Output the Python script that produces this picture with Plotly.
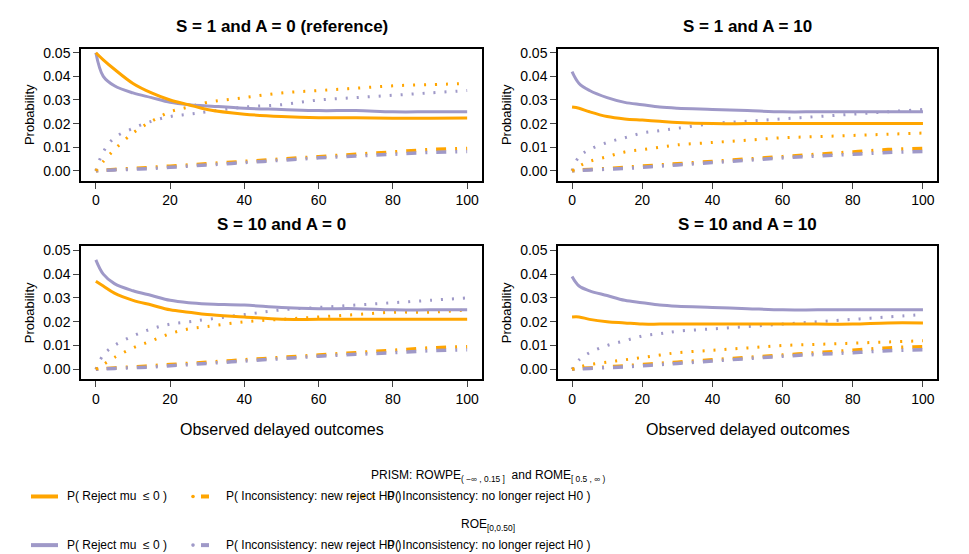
import plotly.graph_objects as go

x = [0, 2, 5, 10, 15, 20, 25, 30, 40, 50, 60, 70, 80, 90, 100]
titles = ["S = 1 and A = 0 (reference)", "S = 1 and A = 10", "S = 10 and A = 0", "S = 10 and A = 10"]

prism_reject = [
    [0.050, 0.047, 0.043, 0.037, 0.033, 0.030, 0.028, 0.026, 0.024, 0.023, 0.0225, 0.0225, 0.0223, 0.0223, 0.0224],
    [0.027, 0.0265, 0.025, 0.023, 0.022, 0.0215, 0.021, 0.0205, 0.020, 0.020, 0.020, 0.020, 0.020, 0.020, 0.020],
    [0.037, 0.035, 0.032, 0.029, 0.027, 0.025, 0.024, 0.023, 0.022, 0.021, 0.021, 0.021, 0.021, 0.021, 0.021],
    [0.022, 0.022, 0.021, 0.020, 0.0195, 0.019, 0.019, 0.019, 0.019, 0.019, 0.019, 0.019, 0.019, 0.0195, 0.0195],
]
roe_reject = [
    [0.050, 0.040, 0.036, 0.033, 0.031, 0.029, 0.028, 0.0275, 0.0265, 0.026, 0.0255, 0.0255, 0.025, 0.025, 0.025],
    [0.042, 0.037, 0.034, 0.031, 0.029, 0.028, 0.027, 0.0265, 0.026, 0.0255, 0.025, 0.025, 0.025, 0.025, 0.025],
    [0.046, 0.040, 0.036, 0.033, 0.031, 0.029, 0.028, 0.0275, 0.027, 0.026, 0.0255, 0.0255, 0.025, 0.025, 0.025],
    [0.039, 0.035, 0.033, 0.031, 0.029, 0.028, 0.027, 0.0265, 0.026, 0.0255, 0.025, 0.025, 0.025, 0.025, 0.025],
]
prism_nolonger = [
    [0, 0.004, 0.009, 0.016, 0.021, 0.025, 0.027, 0.029, 0.031, 0.033, 0.034, 0.035, 0.036, 0.0365, 0.037],
    [0, 0.002, 0.004, 0.006, 0.008, 0.009, 0.010, 0.011, 0.012, 0.013, 0.014, 0.0145, 0.015, 0.0155, 0.016],
    [0, 0.002, 0.005, 0.009, 0.012, 0.015, 0.017, 0.018, 0.020, 0.021, 0.022, 0.023, 0.024, 0.024, 0.025],
    [0, 0.001, 0.002, 0.003, 0.004, 0.005, 0.006, 0.007, 0.008, 0.009, 0.010, 0.0105, 0.011, 0.0115, 0.012],
]
roe_nolonger = [
    [0, 0.008, 0.014, 0.018, 0.021, 0.023, 0.024, 0.025, 0.027, 0.028, 0.030, 0.031, 0.032, 0.033, 0.034],
    [0, 0.006, 0.009, 0.012, 0.014, 0.016, 0.017, 0.018, 0.020, 0.021, 0.022, 0.023, 0.024, 0.025, 0.026],
    [0, 0.006, 0.010, 0.014, 0.017, 0.019, 0.020, 0.021, 0.023, 0.025, 0.026, 0.027, 0.028, 0.029, 0.030],
    [0, 0.004, 0.007, 0.010, 0.012, 0.014, 0.015, 0.016, 0.017, 0.018, 0.019, 0.020, 0.021, 0.022, 0.023],
]
prism_new = [0, 0.0003, 0.0006, 0.001, 0.0015, 0.002, 0.0025, 0.003, 0.004, 0.005, 0.006, 0.007, 0.008, 0.009, 0.0095]
roe_new = [0, 0.0002, 0.0004, 0.0007, 0.001, 0.0015, 0.002, 0.0025, 0.0035, 0.0045, 0.0055, 0.0063, 0.007, 0.0078, 0.0082]

ORANGE = "#FFA500"
PURPLE = "#9F99C8"
W, H = 969, 554
FONT = "Liberation Sans"

def px(v): return v / W
def py(v): return 1 - v / H

boxes = [((73, 474), (37, 170)), ((550, 929), (37, 170)),
         ((73, 474), (236, 370)), ((550, 929), (236, 370))]

fig = go.Figure()
DOT = "2px,9px"
DASHDOT = "2px,9px,10px,9px"
for i in range(4):
    ax = "" if i == 0 else str(i + 1)
    xa, ya = "x" + ax, "y" + ax
    series = [
        (prism_new, ORANGE, DASHDOT, 3.5),
        (roe_new, PURPLE, DASHDOT, 3.5),
        (roe_nolonger[i], PURPLE, DOT, 3),
        (prism_nolonger[i], ORANGE, DOT, 3),
        (roe_reject[i], PURPLE, "solid", 3),
        (prism_reject[i], ORANGE, "solid", 3),
    ]
    for ys, c, d, w in series:
        fig.add_trace(go.Scatter(x=x, y=ys, mode="lines", xaxis=xa, yaxis=ya,
                                 line=dict(color=c, dash=d, width=w, shape="spline"),
                                 showlegend=False, hoverinfo="skip"))
    (x0, x1), (y0, y1) = boxes[i]
    common = dict(showline=True, mirror=True, linecolor="black", linewidth=1.5,
                  ticks="outside", ticklen=6, showgrid=False, zeroline=False,
                  tickfont=dict(size=14, family=FONT, color="black"))
    fig.layout["xaxis" + ax] = dict(domain=[px(x0), px(x1)], range=[-4, 104],
                                    tickvals=[0, 20, 40, 60, 80, 100], anchor=ya, **common)
    fig.layout["yaxis" + ax] = dict(domain=[py(y1), py(y0)], range=[-0.0042, 0.0517],
                                    tickvals=[0, 0.01, 0.02, 0.03, 0.04, 0.05], tickformat=".2f",
                                    anchor=xa, title=dict(text="Probability", standoff=6,
                                    font=dict(size=13, family=FONT, color="black")), **common)
    fig.add_annotation(text="<b>" + titles[i] + "</b>", x=px((x0 + x1) / 2), y=py(y0 - 22),
                       xref="paper", yref="paper", showarrow=False, xanchor="center", yanchor="middle",
                       font=dict(size=17, family=FONT, color="black"))

for cx in [(73 + 474) / 2, (550 + 929) / 2]:
    fig.add_annotation(text="Observed delayed outcomes", x=px(cx), y=py(421), xref="paper", yref="paper",
                       showarrow=False, xanchor="center", yanchor="middle",
                       font=dict(size=16, family=FONT, color="black"))

# legend
fig.add_annotation(text="PRISM: ROWPE<sub>( −∞ , 0.15 ]</sub>  and ROME<sub>[ 0.5 , ∞ )</sub>",
                   x=px(480), y=py(467), xref="paper", yref="paper", showarrow=False,
                   xanchor="center", yanchor="middle",
                   font=dict(size=12, family=FONT, color="black"))
fig.add_annotation(text="ROE<sub>[0,0.50]</sub>", x=px(480), y=py(517), xref="paper", yref="paper",
                   showarrow=False, xanchor="center", yanchor="middle",
                   font=dict(size=12, family=FONT, color="black"))
for ly, c in [(488, ORANGE), (537, PURPLE)]:
    fig.add_shape(type="line", xref="paper", yref="paper", x0=px(23), x1=px(50), y0=py(ly), y1=py(ly),
                  line=dict(color=c, width=4))
    fig.add_shape(type="line", xref="paper", yref="paper", x0=px(193), x1=px(201), y0=py(ly), y1=py(ly),
                  line=dict(color=c, width=4))
    for dx in [185, 345, 355, 365]:
        fig.add_shape(type="circle", xref="paper", yref="paper", x0=px(dx - 1.8), x1=px(dx + 1.8),
                      y0=py(ly + 1.8), y1=py(ly - 1.8), fillcolor=c, line=dict(width=0))
    for tx, t in [(57, "P( Reject mu  ≤ 0 )"), (216, "P( Inconsistency: new reject H0 )"),
                  (377, "P( Inconsistency: no longer reject H0 )")]:
        fig.add_annotation(text=t, x=px(tx), y=py(ly), xref="paper", yref="paper",
                           xanchor="left", yanchor="middle",
                           showarrow=False, font=dict(size=12, family=FONT, color="black"))

fig.update_layout(width=W, height=H, margin=dict(l=0, r=0, t=0, b=0),
                  paper_bgcolor="white", plot_bgcolor="white")
fig.write_html("out.html")
